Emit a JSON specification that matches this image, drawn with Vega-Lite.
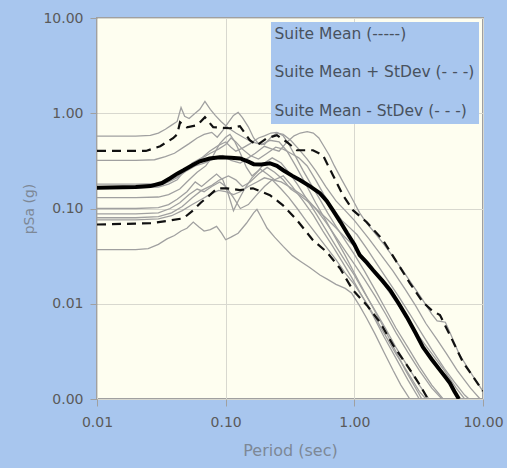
{
  "$schema": "https://vega.github.io/schema/vega-lite/v6.json",
  "width": 386,
  "height": 381,
  "autosize": {"type": "none"},
  "padding": {"left": 97, "top": 18, "right": 24, "bottom": 69},
  "background": "#a8c6ee",
  "config": {
    "font": "DejaVu Sans",
    "view": {"fill": "#fefef0", "stroke": "#a0a0a0", "strokeWidth": 2},
    "axis": {
      "domain": false,
      "grid": true,
      "gridColor": "#d8d8cf",
      "gridWidth": 1,
      "tickColor": "#a0a0a0",
      "tickSize": 7,
      "labelFont": "DejaVu Sans",
      "labelFontSize": 14,
      "labelColor": "#5a5a5a",
      "titleFont": "DejaVu Sans",
      "titleFontWeight": "normal",
      "titleColor": "#7d8896"
    }
  },
  "datasets": {
    "records": [
      {"rec": 1, "T": 0.01, "Sa": 0.575}, {"rec": 1, "T": 0.02, "Sa": 0.575}, {"rec": 1, "T": 0.026, "Sa": 0.585}, {"rec": 1, "T": 0.03, "Sa": 0.62}, {"rec": 1, "T": 0.034, "Sa": 0.68}, {"rec": 1, "T": 0.038, "Sa": 0.75}, {"rec": 1, "T": 0.042, "Sa": 0.82}, {"rec": 1, "T": 0.045, "Sa": 1.15}, {"rec": 1, "T": 0.048, "Sa": 0.93}, {"rec": 1, "T": 0.052, "Sa": 0.88}, {"rec": 1, "T": 0.057, "Sa": 0.98}, {"rec": 1, "T": 0.063, "Sa": 1.1}, {"rec": 1, "T": 0.069, "Sa": 1.33}, {"rec": 1, "T": 0.076, "Sa": 1.1}, {"rec": 1, "T": 0.083, "Sa": 0.95}, {"rec": 1, "T": 0.092, "Sa": 0.82}, {"rec": 1, "T": 0.105, "Sa": 0.7}, {"rec": 1, "T": 0.12, "Sa": 0.62}, {"rec": 1, "T": 0.14, "Sa": 0.55}, {"rec": 1, "T": 0.16, "Sa": 0.5}, {"rec": 1, "T": 0.19, "Sa": 0.47}, {"rec": 1, "T": 0.22, "Sa": 0.52}, {"rec": 1, "T": 0.26, "Sa": 0.5}, {"rec": 1, "T": 0.3, "Sa": 0.4}, {"rec": 1, "T": 0.35, "Sa": 0.28}, {"rec": 1, "T": 0.42, "Sa": 0.18}, {"rec": 1, "T": 0.5, "Sa": 0.115}, {"rec": 1, "T": 0.6, "Sa": 0.075}, {"rec": 1, "T": 0.72, "Sa": 0.048}, {"rec": 1, "T": 0.85, "Sa": 0.032}, {"rec": 1, "T": 1.0, "Sa": 0.021}, {"rec": 1, "T": 1.25, "Sa": 0.012}, {"rec": 1, "T": 1.6, "Sa": 0.0065}, {"rec": 1, "T": 2.0, "Sa": 0.0036}, {"rec": 1, "T": 2.5, "Sa": 0.002}, {"rec": 1, "T": 3.1, "Sa": 0.0012}, {"rec": 1, "T": 3.5, "Sa": 0.0009},

      {"rec": 2, "T": 0.01, "Sa": 0.32}, {"rec": 2, "T": 0.02, "Sa": 0.32}, {"rec": 2, "T": 0.028, "Sa": 0.325}, {"rec": 2, "T": 0.034, "Sa": 0.35}, {"rec": 2, "T": 0.04, "Sa": 0.38}, {"rec": 2, "T": 0.046, "Sa": 0.43}, {"rec": 2, "T": 0.052, "Sa": 0.48}, {"rec": 2, "T": 0.06, "Sa": 0.55}, {"rec": 2, "T": 0.068, "Sa": 0.6}, {"rec": 2, "T": 0.078, "Sa": 0.63}, {"rec": 2, "T": 0.086, "Sa": 0.56}, {"rec": 2, "T": 0.095, "Sa": 0.66}, {"rec": 2, "T": 0.105, "Sa": 0.8}, {"rec": 2, "T": 0.115, "Sa": 0.95}, {"rec": 2, "T": 0.125, "Sa": 1.02}, {"rec": 2, "T": 0.135, "Sa": 0.9}, {"rec": 2, "T": 0.15, "Sa": 0.72}, {"rec": 2, "T": 0.165, "Sa": 0.55}, {"rec": 2, "T": 0.18, "Sa": 0.48}, {"rec": 2, "T": 0.2, "Sa": 0.47}, {"rec": 2, "T": 0.225, "Sa": 0.56}, {"rec": 2, "T": 0.25, "Sa": 0.62}, {"rec": 2, "T": 0.28, "Sa": 0.6}, {"rec": 2, "T": 0.32, "Sa": 0.52}, {"rec": 2, "T": 0.37, "Sa": 0.42}, {"rec": 2, "T": 0.43, "Sa": 0.33}, {"rec": 2, "T": 0.5, "Sa": 0.25}, {"rec": 2, "T": 0.6, "Sa": 0.17}, {"rec": 2, "T": 0.72, "Sa": 0.12}, {"rec": 2, "T": 0.85, "Sa": 0.095}, {"rec": 2, "T": 1.0, "Sa": 0.075}, {"rec": 2, "T": 1.3, "Sa": 0.048}, {"rec": 2, "T": 1.6, "Sa": 0.033}, {"rec": 2, "T": 2.0, "Sa": 0.022}, {"rec": 2, "T": 2.5, "Sa": 0.014}, {"rec": 2, "T": 3.0, "Sa": 0.0095}, {"rec": 2, "T": 3.6, "Sa": 0.0062}, {"rec": 2, "T": 4.4, "Sa": 0.0042}, {"rec": 2, "T": 5.2, "Sa": 0.003}, {"rec": 2, "T": 6.3, "Sa": 0.002}, {"rec": 2, "T": 8.0, "Sa": 0.0013}, {"rec": 2, "T": 9.5, "Sa": 0.001},

      {"rec": 3, "T": 0.01, "Sa": 0.17}, {"rec": 3, "T": 0.02, "Sa": 0.17}, {"rec": 3, "T": 0.03, "Sa": 0.172}, {"rec": 3, "T": 0.036, "Sa": 0.19}, {"rec": 3, "T": 0.042, "Sa": 0.21}, {"rec": 3, "T": 0.05, "Sa": 0.25}, {"rec": 3, "T": 0.058, "Sa": 0.28}, {"rec": 3, "T": 0.068, "Sa": 0.3}, {"rec": 3, "T": 0.08, "Sa": 0.33}, {"rec": 3, "T": 0.095, "Sa": 0.36}, {"rec": 3, "T": 0.11, "Sa": 0.32}, {"rec": 3, "T": 0.13, "Sa": 0.3}, {"rec": 3, "T": 0.15, "Sa": 0.34}, {"rec": 3, "T": 0.17, "Sa": 0.38}, {"rec": 3, "T": 0.2, "Sa": 0.45}, {"rec": 3, "T": 0.23, "Sa": 0.42}, {"rec": 3, "T": 0.26, "Sa": 0.4}, {"rec": 3, "T": 0.3, "Sa": 0.5}, {"rec": 3, "T": 0.34, "Sa": 0.58}, {"rec": 3, "T": 0.38, "Sa": 0.62}, {"rec": 3, "T": 0.43, "Sa": 0.64}, {"rec": 3, "T": 0.48, "Sa": 0.62}, {"rec": 3, "T": 0.53, "Sa": 0.55}, {"rec": 3, "T": 0.58, "Sa": 0.45}, {"rec": 3, "T": 0.64, "Sa": 0.36}, {"rec": 3, "T": 0.7, "Sa": 0.28}, {"rec": 3, "T": 0.8, "Sa": 0.2}, {"rec": 3, "T": 0.9, "Sa": 0.15}, {"rec": 3, "T": 1.0, "Sa": 0.115}, {"rec": 3, "T": 1.1, "Sa": 0.09}, {"rec": 3, "T": 1.25, "Sa": 0.07}, {"rec": 3, "T": 1.45, "Sa": 0.055}, {"rec": 3, "T": 1.7, "Sa": 0.042}, {"rec": 3, "T": 2.0, "Sa": 0.031}, {"rec": 3, "T": 2.4, "Sa": 0.022}, {"rec": 3, "T": 2.9, "Sa": 0.015}, {"rec": 3, "T": 3.4, "Sa": 0.011}, {"rec": 3, "T": 4.0, "Sa": 0.0078}, {"rec": 3, "T": 4.4, "Sa": 0.0066}, {"rec": 3, "T": 4.8, "Sa": 0.0065}, {"rec": 3, "T": 5.1, "Sa": 0.0064}, {"rec": 3, "T": 5.6, "Sa": 0.0048}, {"rec": 3, "T": 6.5, "Sa": 0.003}, {"rec": 3, "T": 8.0, "Sa": 0.0019}, {"rec": 3, "T": 10.0, "Sa": 0.0012},

      {"rec": 4, "T": 0.01, "Sa": 0.165}, {"rec": 4, "T": 0.02, "Sa": 0.165}, {"rec": 4, "T": 0.03, "Sa": 0.168}, {"rec": 4, "T": 0.036, "Sa": 0.18}, {"rec": 4, "T": 0.042, "Sa": 0.2}, {"rec": 4, "T": 0.048, "Sa": 0.25}, {"rec": 4, "T": 0.055, "Sa": 0.3}, {"rec": 4, "T": 0.065, "Sa": 0.34}, {"rec": 4, "T": 0.075, "Sa": 0.4}, {"rec": 4, "T": 0.088, "Sa": 0.46}, {"rec": 4, "T": 0.1, "Sa": 0.5}, {"rec": 4, "T": 0.11, "Sa": 0.44}, {"rec": 4, "T": 0.12, "Sa": 0.4}, {"rec": 4, "T": 0.135, "Sa": 0.43}, {"rec": 4, "T": 0.155, "Sa": 0.48}, {"rec": 4, "T": 0.18, "Sa": 0.55}, {"rec": 4, "T": 0.2, "Sa": 0.58}, {"rec": 4, "T": 0.225, "Sa": 0.62}, {"rec": 4, "T": 0.25, "Sa": 0.63}, {"rec": 4, "T": 0.28, "Sa": 0.58}, {"rec": 4, "T": 0.31, "Sa": 0.47}, {"rec": 4, "T": 0.35, "Sa": 0.35}, {"rec": 4, "T": 0.4, "Sa": 0.25}, {"rec": 4, "T": 0.46, "Sa": 0.18}, {"rec": 4, "T": 0.53, "Sa": 0.13}, {"rec": 4, "T": 0.62, "Sa": 0.09}, {"rec": 4, "T": 0.72, "Sa": 0.065}, {"rec": 4, "T": 0.85, "Sa": 0.046}, {"rec": 4, "T": 1.0, "Sa": 0.033}, {"rec": 4, "T": 1.2, "Sa": 0.022}, {"rec": 4, "T": 1.45, "Sa": 0.014}, {"rec": 4, "T": 1.75, "Sa": 0.0088}, {"rec": 4, "T": 2.1, "Sa": 0.0056}, {"rec": 4, "T": 2.6, "Sa": 0.0035}, {"rec": 4, "T": 3.2, "Sa": 0.0022}, {"rec": 4, "T": 4.0, "Sa": 0.0014}, {"rec": 4, "T": 4.9, "Sa": 0.001},

      {"rec": 5, "T": 0.01, "Sa": 0.13}, {"rec": 5, "T": 0.02, "Sa": 0.13}, {"rec": 5, "T": 0.03, "Sa": 0.132}, {"rec": 5, "T": 0.036, "Sa": 0.14}, {"rec": 5, "T": 0.044, "Sa": 0.16}, {"rec": 5, "T": 0.052, "Sa": 0.2}, {"rec": 5, "T": 0.06, "Sa": 0.24}, {"rec": 5, "T": 0.07, "Sa": 0.28}, {"rec": 5, "T": 0.08, "Sa": 0.36}, {"rec": 5, "T": 0.09, "Sa": 0.48}, {"rec": 5, "T": 0.1, "Sa": 0.56}, {"rec": 5, "T": 0.108, "Sa": 0.6}, {"rec": 5, "T": 0.118, "Sa": 0.5}, {"rec": 5, "T": 0.13, "Sa": 0.38}, {"rec": 5, "T": 0.145, "Sa": 0.27}, {"rec": 5, "T": 0.16, "Sa": 0.22}, {"rec": 5, "T": 0.18, "Sa": 0.25}, {"rec": 5, "T": 0.2, "Sa": 0.3}, {"rec": 5, "T": 0.23, "Sa": 0.34}, {"rec": 5, "T": 0.27, "Sa": 0.3}, {"rec": 5, "T": 0.31, "Sa": 0.24}, {"rec": 5, "T": 0.36, "Sa": 0.18}, {"rec": 5, "T": 0.42, "Sa": 0.13}, {"rec": 5, "T": 0.5, "Sa": 0.09}, {"rec": 5, "T": 0.6, "Sa": 0.06}, {"rec": 5, "T": 0.72, "Sa": 0.04}, {"rec": 5, "T": 0.85, "Sa": 0.028}, {"rec": 5, "T": 1.0, "Sa": 0.02}, {"rec": 5, "T": 1.2, "Sa": 0.013}, {"rec": 5, "T": 1.45, "Sa": 0.0085}, {"rec": 5, "T": 1.75, "Sa": 0.0055}, {"rec": 5, "T": 2.1, "Sa": 0.0035}, {"rec": 5, "T": 2.6, "Sa": 0.0022}, {"rec": 5, "T": 3.2, "Sa": 0.0014}, {"rec": 5, "T": 3.8, "Sa": 0.001},

      {"rec": 6, "T": 0.01, "Sa": 0.1}, {"rec": 6, "T": 0.02, "Sa": 0.1}, {"rec": 6, "T": 0.03, "Sa": 0.102}, {"rec": 6, "T": 0.036, "Sa": 0.11}, {"rec": 6, "T": 0.042, "Sa": 0.125}, {"rec": 6, "T": 0.05, "Sa": 0.15}, {"rec": 6, "T": 0.058, "Sa": 0.19}, {"rec": 6, "T": 0.065, "Sa": 0.17}, {"rec": 6, "T": 0.075, "Sa": 0.2}, {"rec": 6, "T": 0.085, "Sa": 0.23}, {"rec": 6, "T": 0.095, "Sa": 0.2}, {"rec": 6, "T": 0.105, "Sa": 0.14}, {"rec": 6, "T": 0.115, "Sa": 0.095}, {"rec": 6, "T": 0.125, "Sa": 0.12}, {"rec": 6, "T": 0.14, "Sa": 0.16}, {"rec": 6, "T": 0.16, "Sa": 0.21}, {"rec": 6, "T": 0.185, "Sa": 0.26}, {"rec": 6, "T": 0.21, "Sa": 0.23}, {"rec": 6, "T": 0.24, "Sa": 0.2}, {"rec": 6, "T": 0.28, "Sa": 0.22}, {"rec": 6, "T": 0.33, "Sa": 0.17}, {"rec": 6, "T": 0.4, "Sa": 0.12}, {"rec": 6, "T": 0.48, "Sa": 0.085}, {"rec": 6, "T": 0.57, "Sa": 0.058}, {"rec": 6, "T": 0.68, "Sa": 0.04}, {"rec": 6, "T": 0.8, "Sa": 0.028}, {"rec": 6, "T": 0.95, "Sa": 0.019}, {"rec": 6, "T": 1.15, "Sa": 0.012}, {"rec": 6, "T": 1.4, "Sa": 0.0075}, {"rec": 6, "T": 1.7, "Sa": 0.0045}, {"rec": 6, "T": 2.1, "Sa": 0.0027}, {"rec": 6, "T": 2.6, "Sa": 0.0016}, {"rec": 6, "T": 3.2, "Sa": 0.001},

      {"rec": 7, "T": 0.01, "Sa": 0.088}, {"rec": 7, "T": 0.02, "Sa": 0.088}, {"rec": 7, "T": 0.03, "Sa": 0.09}, {"rec": 7, "T": 0.037, "Sa": 0.1}, {"rec": 7, "T": 0.044, "Sa": 0.115}, {"rec": 7, "T": 0.052, "Sa": 0.14}, {"rec": 7, "T": 0.06, "Sa": 0.16}, {"rec": 7, "T": 0.068, "Sa": 0.15}, {"rec": 7, "T": 0.078, "Sa": 0.17}, {"rec": 7, "T": 0.09, "Sa": 0.19}, {"rec": 7, "T": 0.1, "Sa": 0.17}, {"rec": 7, "T": 0.115, "Sa": 0.13}, {"rec": 7, "T": 0.13, "Sa": 0.1}, {"rec": 7, "T": 0.15, "Sa": 0.11}, {"rec": 7, "T": 0.175, "Sa": 0.14}, {"rec": 7, "T": 0.2, "Sa": 0.17}, {"rec": 7, "T": 0.23, "Sa": 0.2}, {"rec": 7, "T": 0.27, "Sa": 0.19}, {"rec": 7, "T": 0.31, "Sa": 0.17}, {"rec": 7, "T": 0.36, "Sa": 0.15}, {"rec": 7, "T": 0.42, "Sa": 0.13}, {"rec": 7, "T": 0.5, "Sa": 0.1}, {"rec": 7, "T": 0.6, "Sa": 0.072}, {"rec": 7, "T": 0.72, "Sa": 0.05}, {"rec": 7, "T": 0.85, "Sa": 0.036}, {"rec": 7, "T": 1.0, "Sa": 0.026}, {"rec": 7, "T": 1.2, "Sa": 0.018}, {"rec": 7, "T": 1.45, "Sa": 0.012}, {"rec": 7, "T": 1.75, "Sa": 0.0078}, {"rec": 7, "T": 2.1, "Sa": 0.005}, {"rec": 7, "T": 2.6, "Sa": 0.0031}, {"rec": 7, "T": 3.2, "Sa": 0.002}, {"rec": 7, "T": 4.0, "Sa": 0.0013}, {"rec": 7, "T": 4.8, "Sa": 0.001},

      {"rec": 8, "T": 0.01, "Sa": 0.08}, {"rec": 8, "T": 0.02, "Sa": 0.08}, {"rec": 8, "T": 0.03, "Sa": 0.082}, {"rec": 8, "T": 0.038, "Sa": 0.09}, {"rec": 8, "T": 0.046, "Sa": 0.105}, {"rec": 8, "T": 0.055, "Sa": 0.13}, {"rec": 8, "T": 0.065, "Sa": 0.155}, {"rec": 8, "T": 0.078, "Sa": 0.175}, {"rec": 8, "T": 0.09, "Sa": 0.2}, {"rec": 8, "T": 0.105, "Sa": 0.22}, {"rec": 8, "T": 0.12, "Sa": 0.2}, {"rec": 8, "T": 0.135, "Sa": 0.17}, {"rec": 8, "T": 0.155, "Sa": 0.19}, {"rec": 8, "T": 0.18, "Sa": 0.23}, {"rec": 8, "T": 0.21, "Sa": 0.27}, {"rec": 8, "T": 0.24, "Sa": 0.24}, {"rec": 8, "T": 0.28, "Sa": 0.2}, {"rec": 8, "T": 0.32, "Sa": 0.16}, {"rec": 8, "T": 0.37, "Sa": 0.14}, {"rec": 8, "T": 0.43, "Sa": 0.12}, {"rec": 8, "T": 0.5, "Sa": 0.1}, {"rec": 8, "T": 0.6, "Sa": 0.08}, {"rec": 8, "T": 0.7, "Sa": 0.065}, {"rec": 8, "T": 0.82, "Sa": 0.052}, {"rec": 8, "T": 1.0, "Sa": 0.04}, {"rec": 8, "T": 1.2, "Sa": 0.03}, {"rec": 8, "T": 1.45, "Sa": 0.022}, {"rec": 8, "T": 1.75, "Sa": 0.015}, {"rec": 8, "T": 2.1, "Sa": 0.0105}, {"rec": 8, "T": 2.6, "Sa": 0.007}, {"rec": 8, "T": 3.2, "Sa": 0.0045}, {"rec": 8, "T": 4.0, "Sa": 0.003}, {"rec": 8, "T": 5.0, "Sa": 0.002}, {"rec": 8, "T": 6.2, "Sa": 0.0013}, {"rec": 8, "T": 7.2, "Sa": 0.001},

      {"rec": 9, "T": 0.01, "Sa": 0.076}, {"rec": 9, "T": 0.02, "Sa": 0.076}, {"rec": 9, "T": 0.03, "Sa": 0.078}, {"rec": 9, "T": 0.038, "Sa": 0.084}, {"rec": 9, "T": 0.046, "Sa": 0.095}, {"rec": 9, "T": 0.055, "Sa": 0.11}, {"rec": 9, "T": 0.065, "Sa": 0.125}, {"rec": 9, "T": 0.075, "Sa": 0.14}, {"rec": 9, "T": 0.088, "Sa": 0.155}, {"rec": 9, "T": 0.1, "Sa": 0.15}, {"rec": 9, "T": 0.115, "Sa": 0.14}, {"rec": 9, "T": 0.13, "Sa": 0.15}, {"rec": 9, "T": 0.15, "Sa": 0.17}, {"rec": 9, "T": 0.175, "Sa": 0.19}, {"rec": 9, "T": 0.2, "Sa": 0.21}, {"rec": 9, "T": 0.23, "Sa": 0.2}, {"rec": 9, "T": 0.27, "Sa": 0.16}, {"rec": 9, "T": 0.31, "Sa": 0.13}, {"rec": 9, "T": 0.36, "Sa": 0.1}, {"rec": 9, "T": 0.42, "Sa": 0.075}, {"rec": 9, "T": 0.5, "Sa": 0.055}, {"rec": 9, "T": 0.6, "Sa": 0.04}, {"rec": 9, "T": 0.72, "Sa": 0.029}, {"rec": 9, "T": 0.85, "Sa": 0.021}, {"rec": 9, "T": 1.0, "Sa": 0.016}, {"rec": 9, "T": 1.2, "Sa": 0.011}, {"rec": 9, "T": 1.45, "Sa": 0.0072}, {"rec": 9, "T": 1.75, "Sa": 0.0046}, {"rec": 9, "T": 2.1, "Sa": 0.003}, {"rec": 9, "T": 2.6, "Sa": 0.0019}, {"rec": 9, "T": 3.2, "Sa": 0.0012}, {"rec": 9, "T": 3.6, "Sa": 0.001},

      {"rec": 10, "T": 0.01, "Sa": 0.037}, {"rec": 10, "T": 0.02, "Sa": 0.037}, {"rec": 10, "T": 0.025, "Sa": 0.038}, {"rec": 10, "T": 0.03, "Sa": 0.042}, {"rec": 10, "T": 0.035, "Sa": 0.048}, {"rec": 10, "T": 0.04, "Sa": 0.052}, {"rec": 10, "T": 0.045, "Sa": 0.058}, {"rec": 10, "T": 0.05, "Sa": 0.062}, {"rec": 10, "T": 0.056, "Sa": 0.072}, {"rec": 10, "T": 0.062, "Sa": 0.064}, {"rec": 10, "T": 0.068, "Sa": 0.058}, {"rec": 10, "T": 0.076, "Sa": 0.06}, {"rec": 10, "T": 0.085, "Sa": 0.065}, {"rec": 10, "T": 0.093, "Sa": 0.055}, {"rec": 10, "T": 0.1, "Sa": 0.047}, {"rec": 10, "T": 0.11, "Sa": 0.05}, {"rec": 10, "T": 0.125, "Sa": 0.055}, {"rec": 10, "T": 0.145, "Sa": 0.07}, {"rec": 10, "T": 0.165, "Sa": 0.09}, {"rec": 10, "T": 0.175, "Sa": 0.098}, {"rec": 10, "T": 0.19, "Sa": 0.08}, {"rec": 10, "T": 0.21, "Sa": 0.062}, {"rec": 10, "T": 0.24, "Sa": 0.05}, {"rec": 10, "T": 0.28, "Sa": 0.04}, {"rec": 10, "T": 0.33, "Sa": 0.032}, {"rec": 10, "T": 0.38, "Sa": 0.028}, {"rec": 10, "T": 0.45, "Sa": 0.024}, {"rec": 10, "T": 0.54, "Sa": 0.02}, {"rec": 10, "T": 0.62, "Sa": 0.018}, {"rec": 10, "T": 0.72, "Sa": 0.016}, {"rec": 10, "T": 0.85, "Sa": 0.0145}, {"rec": 10, "T": 0.95, "Sa": 0.013}, {"rec": 10, "T": 1.1, "Sa": 0.0095}, {"rec": 10, "T": 1.25, "Sa": 0.007}, {"rec": 10, "T": 1.45, "Sa": 0.0048}, {"rec": 10, "T": 1.7, "Sa": 0.0031}, {"rec": 10, "T": 2.0, "Sa": 0.002}, {"rec": 10, "T": 2.3, "Sa": 0.0014}, {"rec": 10, "T": 2.7, "Sa": 0.001},

      {"rec": 11, "T": 0.01, "Sa": 0.18}, {"rec": 11, "T": 0.02, "Sa": 0.18}, {"rec": 11, "T": 0.03, "Sa": 0.182}, {"rec": 11, "T": 0.036, "Sa": 0.195}, {"rec": 11, "T": 0.043, "Sa": 0.22}, {"rec": 11, "T": 0.05, "Sa": 0.26}, {"rec": 11, "T": 0.058, "Sa": 0.3}, {"rec": 11, "T": 0.066, "Sa": 0.34}, {"rec": 11, "T": 0.076, "Sa": 0.38}, {"rec": 11, "T": 0.088, "Sa": 0.42}, {"rec": 11, "T": 0.1, "Sa": 0.47}, {"rec": 11, "T": 0.11, "Sa": 0.55}, {"rec": 11, "T": 0.12, "Sa": 0.5}, {"rec": 11, "T": 0.135, "Sa": 0.42}, {"rec": 11, "T": 0.155, "Sa": 0.36}, {"rec": 11, "T": 0.18, "Sa": 0.33}, {"rec": 11, "T": 0.21, "Sa": 0.38}, {"rec": 11, "T": 0.245, "Sa": 0.44}, {"rec": 11, "T": 0.28, "Sa": 0.42}, {"rec": 11, "T": 0.32, "Sa": 0.38}, {"rec": 11, "T": 0.37, "Sa": 0.34}, {"rec": 11, "T": 0.43, "Sa": 0.28}, {"rec": 11, "T": 0.5, "Sa": 0.2}, {"rec": 11, "T": 0.58, "Sa": 0.14}, {"rec": 11, "T": 0.68, "Sa": 0.1}, {"rec": 11, "T": 0.8, "Sa": 0.075}, {"rec": 11, "T": 0.92, "Sa": 0.063}, {"rec": 11, "T": 1.05, "Sa": 0.053}, {"rec": 11, "T": 1.25, "Sa": 0.038}, {"rec": 11, "T": 1.5, "Sa": 0.026}, {"rec": 11, "T": 1.8, "Sa": 0.018}, {"rec": 11, "T": 2.2, "Sa": 0.012}, {"rec": 11, "T": 2.7, "Sa": 0.0078}, {"rec": 11, "T": 3.3, "Sa": 0.005}, {"rec": 11, "T": 4.0, "Sa": 0.0033}, {"rec": 11, "T": 5.0, "Sa": 0.0021}, {"rec": 11, "T": 6.0, "Sa": 0.0015}, {"rec": 11, "T": 7.2, "Sa": 0.0011}, {"rec": 11, "T": 7.8, "Sa": 0.001}
    ],
    "stats": [
      {"series": "Suite Mean (-----)", "T": 0.01, "Sa": 0.165}, {"series": "Suite Mean (-----)", "T": 0.02, "Sa": 0.168}, {"series": "Suite Mean (-----)", "T": 0.026, "Sa": 0.172}, {"series": "Suite Mean (-----)", "T": 0.032, "Sa": 0.185}, {"series": "Suite Mean (-----)", "T": 0.037, "Sa": 0.208}, {"series": "Suite Mean (-----)", "T": 0.042, "Sa": 0.232}, {"series": "Suite Mean (-----)", "T": 0.047, "Sa": 0.252}, {"series": "Suite Mean (-----)", "T": 0.055, "Sa": 0.285}, {"series": "Suite Mean (-----)", "T": 0.063, "Sa": 0.313}, {"series": "Suite Mean (-----)", "T": 0.075, "Sa": 0.335}, {"series": "Suite Mean (-----)", "T": 0.09, "Sa": 0.345}, {"series": "Suite Mean (-----)", "T": 0.11, "Sa": 0.342}, {"series": "Suite Mean (-----)", "T": 0.13, "Sa": 0.335}, {"series": "Suite Mean (-----)", "T": 0.15, "Sa": 0.31}, {"series": "Suite Mean (-----)", "T": 0.165, "Sa": 0.292}, {"series": "Suite Mean (-----)", "T": 0.19, "Sa": 0.29}, {"series": "Suite Mean (-----)", "T": 0.22, "Sa": 0.299}, {"series": "Suite Mean (-----)", "T": 0.25, "Sa": 0.28}, {"series": "Suite Mean (-----)", "T": 0.28, "Sa": 0.252}, {"series": "Suite Mean (-----)", "T": 0.33, "Sa": 0.22}, {"series": "Suite Mean (-----)", "T": 0.38, "Sa": 0.198}, {"series": "Suite Mean (-----)", "T": 0.45, "Sa": 0.172}, {"series": "Suite Mean (-----)", "T": 0.54, "Sa": 0.145}, {"series": "Suite Mean (-----)", "T": 0.61, "Sa": 0.12}, {"series": "Suite Mean (-----)", "T": 0.68, "Sa": 0.096}, {"series": "Suite Mean (-----)", "T": 0.78, "Sa": 0.072}, {"series": "Suite Mean (-----)", "T": 0.88, "Sa": 0.055}, {"series": "Suite Mean (-----)", "T": 1.0, "Sa": 0.042}, {"series": "Suite Mean (-----)", "T": 1.1, "Sa": 0.0324}, {"series": "Suite Mean (-----)", "T": 1.25, "Sa": 0.027}, {"series": "Suite Mean (-----)", "T": 1.4, "Sa": 0.0225}, {"series": "Suite Mean (-----)", "T": 1.65, "Sa": 0.0175}, {"series": "Suite Mean (-----)", "T": 1.9, "Sa": 0.0139}, {"series": "Suite Mean (-----)", "T": 2.2, "Sa": 0.0102}, {"series": "Suite Mean (-----)", "T": 2.56, "Sa": 0.00724}, {"series": "Suite Mean (-----)", "T": 3.0, "Sa": 0.0049}, {"series": "Suite Mean (-----)", "T": 3.41, "Sa": 0.00351}, {"series": "Suite Mean (-----)", "T": 4.0, "Sa": 0.0026}, {"series": "Suite Mean (-----)", "T": 4.63, "Sa": 0.00201}, {"series": "Suite Mean (-----)", "T": 5.1, "Sa": 0.0017}, {"series": "Suite Mean (-----)", "T": 5.53, "Sa": 0.00147}, {"series": "Suite Mean (-----)", "T": 6.0, "Sa": 0.0012}, {"series": "Suite Mean (-----)", "T": 6.5, "Sa": 0.001},

      {"series": "Suite Mean + StDev (- - -)", "T": 0.01, "Sa": 0.402}, {"series": "Suite Mean + StDev (- - -)", "T": 0.024, "Sa": 0.402}, {"series": "Suite Mean + StDev (- - -)", "T": 0.031, "Sa": 0.451}, {"series": "Suite Mean + StDev (- - -)", "T": 0.039, "Sa": 0.547}, {"series": "Suite Mean + StDev (- - -)", "T": 0.042, "Sa": 0.6}, {"series": "Suite Mean + StDev (- - -)", "T": 0.0442, "Sa": 0.805}, {"series": "Suite Mean + StDev (- - -)", "T": 0.05, "Sa": 0.713}, {"series": "Suite Mean + StDev (- - -)", "T": 0.06, "Sa": 0.748}, {"series": "Suite Mean + StDev (- - -)", "T": 0.069, "Sa": 0.908}, {"series": "Suite Mean + StDev (- - -)", "T": 0.08, "Sa": 0.713}, {"series": "Suite Mean + StDev (- - -)", "T": 0.108, "Sa": 0.696}, {"series": "Suite Mean + StDev (- - -)", "T": 0.129, "Sa": 0.731}, {"series": "Suite Mean + StDev (- - -)", "T": 0.154, "Sa": 0.521}, {"series": "Suite Mean + StDev (- - -)", "T": 0.175, "Sa": 0.462}, {"series": "Suite Mean + StDev (- - -)", "T": 0.209, "Sa": 0.547}, {"series": "Suite Mean + StDev (- - -)", "T": 0.25, "Sa": 0.588}, {"series": "Suite Mean + StDev (- - -)", "T": 0.3, "Sa": 0.496}, {"series": "Suite Mean + StDev (- - -)", "T": 0.358, "Sa": 0.409}, {"series": "Suite Mean + StDev (- - -)", "T": 0.477, "Sa": 0.409}, {"series": "Suite Mean + StDev (- - -)", "T": 0.57, "Sa": 0.362}, {"series": "Suite Mean + StDev (- - -)", "T": 0.682, "Sa": 0.224}, {"series": "Suite Mean + StDev (- - -)", "T": 0.815, "Sa": 0.138}, {"series": "Suite Mean + StDev (- - -)", "T": 0.975, "Sa": 0.096}, {"series": "Suite Mean + StDev (- - -)", "T": 1.25, "Sa": 0.0718}, {"series": "Suite Mean + StDev (- - -)", "T": 1.67, "Sa": 0.0465}, {"series": "Suite Mean + StDev (- - -)", "T": 2.14, "Sa": 0.0273}, {"series": "Suite Mean + StDev (- - -)", "T": 2.7, "Sa": 0.0165}, {"series": "Suite Mean + StDev (- - -)", "T": 3.41, "Sa": 0.0104}, {"series": "Suite Mean + StDev (- - -)", "T": 4.0, "Sa": 0.0085}, {"series": "Suite Mean + StDev (- - -)", "T": 4.63, "Sa": 0.0076}, {"series": "Suite Mean + StDev (- - -)", "T": 5.53, "Sa": 0.00469}, {"series": "Suite Mean + StDev (- - -)", "T": 6.98, "Sa": 0.00244}, {"series": "Suite Mean + StDev (- - -)", "T": 10.0, "Sa": 0.00121},

      {"series": "Suite Mean - StDev (- - -)", "T": 0.01, "Sa": 0.0679}, {"series": "Suite Mean - StDev (- - -)", "T": 0.026, "Sa": 0.07}, {"series": "Suite Mean - StDev (- - -)", "T": 0.035, "Sa": 0.074}, {"series": "Suite Mean - StDev (- - -)", "T": 0.047, "Sa": 0.079}, {"series": "Suite Mean - StDev (- - -)", "T": 0.056, "Sa": 0.096}, {"series": "Suite Mean - StDev (- - -)", "T": 0.064, "Sa": 0.115}, {"series": "Suite Mean - StDev (- - -)", "T": 0.072, "Sa": 0.131}, {"series": "Suite Mean - StDev (- - -)", "T": 0.086, "Sa": 0.163}, {"series": "Suite Mean - StDev (- - -)", "T": 0.102, "Sa": 0.163}, {"series": "Suite Mean - StDev (- - -)", "T": 0.129, "Sa": 0.156}, {"series": "Suite Mean - StDev (- - -)", "T": 0.163, "Sa": 0.163}, {"series": "Suite Mean - StDev (- - -)", "T": 0.221, "Sa": 0.138}, {"series": "Suite Mean - StDev (- - -)", "T": 0.279, "Sa": 0.108}, {"series": "Suite Mean - StDev (- - -)", "T": 0.358, "Sa": 0.0754}, {"series": "Suite Mean - StDev (- - -)", "T": 0.477, "Sa": 0.0465}, {"series": "Suite Mean - StDev (- - -)", "T": 0.612, "Sa": 0.0348}, {"series": "Suite Mean - StDev (- - -)", "T": 0.773, "Sa": 0.0236}, {"series": "Suite Mean - StDev (- - -)", "T": 0.975, "Sa": 0.0139}, {"series": "Suite Mean - StDev (- - -)", "T": 1.25, "Sa": 0.00967}, {"series": "Suite Mean - StDev (- - -)", "T": 1.58, "Sa": 0.00641}, {"series": "Suite Mean - StDev (- - -)", "T": 2.0, "Sa": 0.00368}, {"series": "Suite Mean - StDev (- - -)", "T": 2.56, "Sa": 0.00227}, {"series": "Suite Mean - StDev (- - -)", "T": 3.24, "Sa": 0.0014}, {"series": "Suite Mean - StDev (- - -)", "T": 3.73, "Sa": 0.001}
    ]
  },
  "encoding": {
    "x": {
      "field": "T",
      "type": "quantitative",
      "scale": {"type": "log", "domain": [0.01, 10], "nice": false},
      "axis": {
        "values": [0.01, 0.1, 1, 10],
        "format": ".2f",
        "title": "Period (sec)",
        "labelPadding": 9,
        "labelFlush": false,
        "titleFontSize": 16,
        "titlePadding": 13
      }
    },
    "y": {
      "field": "Sa",
      "type": "quantitative",
      "scale": {"type": "log", "domain": [0.001, 10], "nice": false},
      "axis": {
        "values": [0.001, 0.01, 0.1, 1, 10],
        "format": ".2f",
        "title": "pSa (g)",
        "labelPadding": 7,
        "labelFlush": false,
        "titleFontSize": 14,
        "titlePadding": 6
      }
    }
  },
  "layer": [
    {
      "data": {"name": "records"},
      "mark": {"type": "line", "clip": true, "color": "#a0a0a0", "strokeWidth": 1.3},
      "encoding": {"detail": {"field": "rec", "type": "nominal"}}
    },
    {
      "data": {"name": "stats"},
      "transform": [{"filter": "datum.series !== 'Suite Mean (-----)'"}],
      "mark": {"type": "line", "clip": true, "strokeWidth": 2.2, "strokeDash": [9, 6]},
      "encoding": {
        "color": {
          "field": "series",
          "type": "nominal",
          "scale": {
            "domain": ["Suite Mean (-----)", "Suite Mean + StDev (- - -)", "Suite Mean - StDev (- - -)"],
            "range": ["#000000", "#111111", "#111111"]
          },
          "legend": {
            "orient": "none",
            "legendX": 174,
            "legendY": 4,
            "title": null,
            "fillColor": "#a8c6ee",
            "padding": 4,
            "symbolSize": 0,
            "symbolStrokeWidth": 0,
            "symbolOpacity": 0,
            "labelOffset": -16,
            "labelFont": "DejaVu Sans",
            "labelFontSize": 15.5,
            "labelColor": "#48525e",
            "labelLimit": 400,
            "rowPadding": 21.5
          }
        }
      }
    },
    {
      "data": {"name": "stats"},
      "transform": [{"filter": "datum.series === 'Suite Mean (-----)'"}],
      "mark": {"type": "line", "clip": true, "strokeWidth": 4},
      "encoding": {
        "color": {"field": "series", "type": "nominal"}
      }
    }
  ]
}
